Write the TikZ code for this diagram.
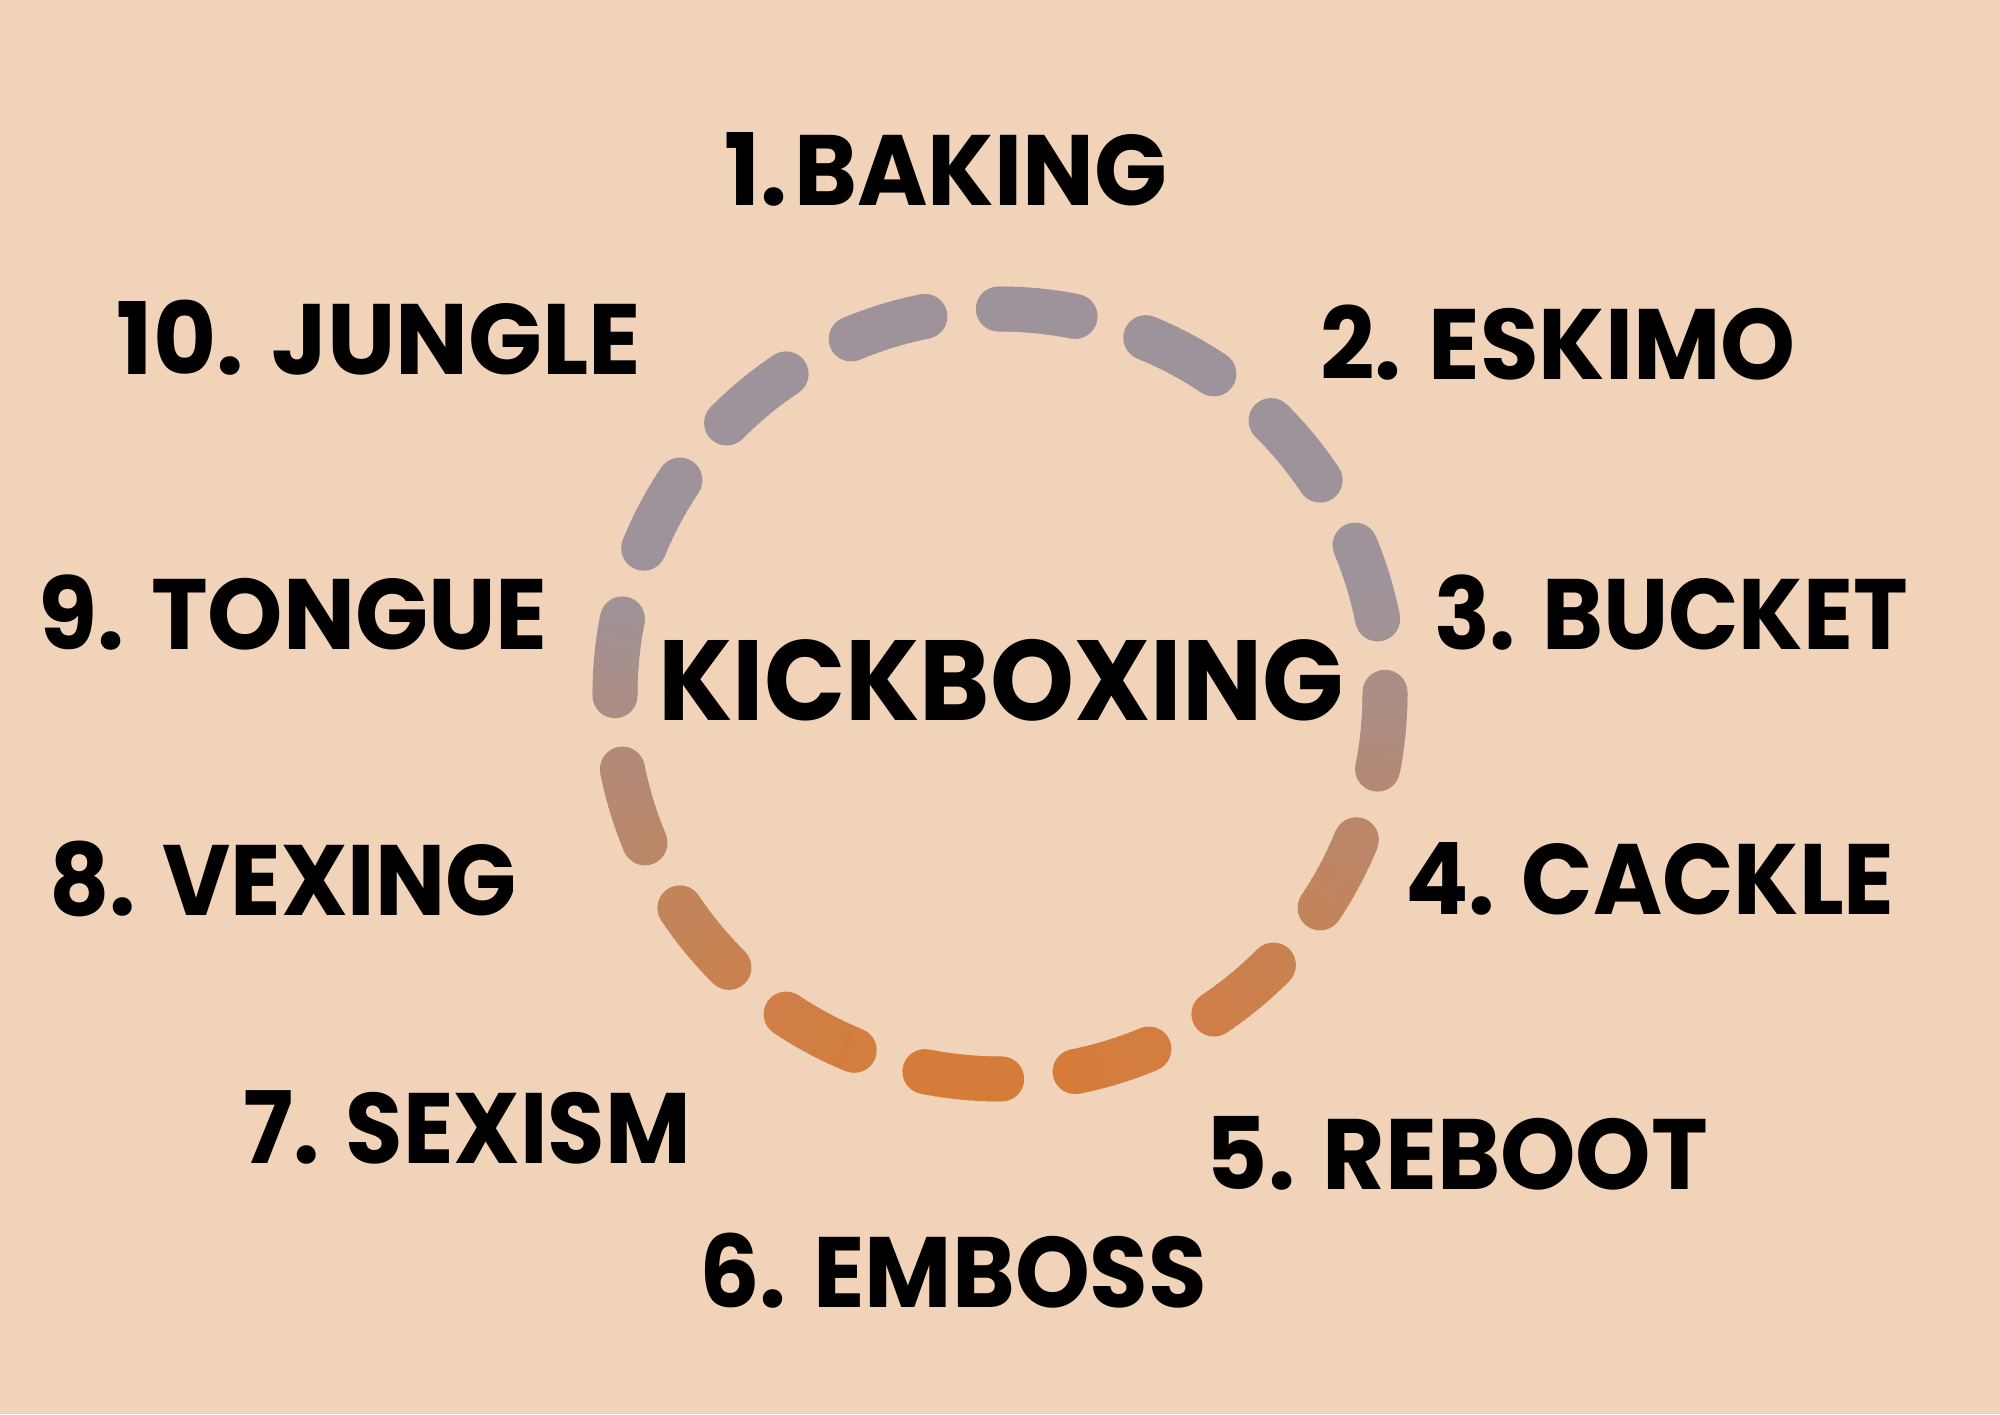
\documentclass[tikz,border=0pt]{standalone}
\usepackage{fontspec}
\usepackage{graphicx}
\setmainfont{Poppins}
\definecolor{bg}{HTML}{F0D3B9}
\definecolor{ringgray}{HTML}{9E939B}
\definecolor{ringorange}{HTML}{D67C3A}
\newcommand{\sqz}[2]{\scalebox{#1}[1]{#2}}
\begin{document}
\begin{tikzpicture}[x=0.5pt,y=0.5pt,
  lbl/.style={font=\fontsize{50}{50}\selectfont\bfseries, anchor=base, inner sep=0pt},
  ttl/.style={font=\fontsize{57}{57}\selectfont\bfseries, anchor=base, inner sep=0pt}]
\fill[bg] (0,0) rectangle (2000,1414);
\useasboundingbox (0,0) rectangle (2000,1414);
% dashed ring with vertical gradient
\foreach \k in {0,...,15}{
  \pgfmathsetmacro\dc{84.5+22.5*\k}
  \pgfmathsetmacro\ds{\dc-5.75}
  \pgfmathsetmacro\de{\dc+5.75}
  % end caps
  \pgfmathsetmacro\ya{694-385*sin(\ds)}
  \pgfmathsetmacro\pa{min(100,max(0,(\ya-590)/4.88))}
  \pgfmathsetmacro\yb{694-385*sin(\de)}
  \pgfmathsetmacro\pb{min(100,max(0,(\yb-590)/4.88))}
  \fill[ringorange!\pa!ringgray] ({1000+385*cos(\ds)},{720+385*sin(\ds)}) circle[radius=22.5];
  \fill[ringorange!\pb!ringgray] ({1000+385*cos(\de)},{720+385*sin(\de)}) circle[radius=22.5];
  \foreach \j in {0,...,11}{
    \pgfmathsetmacro\sa{\ds+\j*11.5/12}
    \pgfmathsetmacro\sb{min(\sa+11.5/12+0.3,\de)}
    \pgfmathsetmacro\sm{\sa+11.5/24}
    \pgfmathsetmacro\yy{694-385*sin(\sm)}
    \pgfmathsetmacro\pp{min(100,max(0,(\yy-590)/4.88))}
    \draw[line width=22.5pt, ringorange!\pp!ringgray] ({1000+385*cos(\sa)},{720+385*sin(\sa)}) arc[start angle=\sa, end angle=\sb, radius=385];
  }
}
\node[ttl] (center) at (1001,693) {\sqz{0.937}{KICKBOXING}};
\node[lbl] (l1) at (946,1208) {\sqz{0.956}{1.\kern3.5pt BAKING}};
\node[lbl] (l2) at (1558,1034) {\sqz{0.953}{2. ESKIMO}};
\node[lbl] (l3) at (1671,764) {\sqz{0.925}{3. BUCKET}};
\node[lbl] (l4) at (1650,500) {\sqz{0.938}{4. CACKLE}};
\node[lbl] (l5) at (1457,225) {\sqz{0.96}{5. REBOOT}};
\node[lbl] (l6) at (953,107) {\sqz{0.952}{6. EMBOSS}};
\node[lbl] (l7) at (467,251) {\sqz{0.933}{7. SEXISM}};
\node[lbl] (l8) at (283,498) {\sqz{0.933}{8. VEXING}};
\node[lbl] (l9) at (293,764) {\sqz{0.959}{9. TONGUE}};
\node[lbl] (l10) at (379,1039) {\sqz{0.97}{10. JUNGLE}};
\end{tikzpicture}
\end{document}
